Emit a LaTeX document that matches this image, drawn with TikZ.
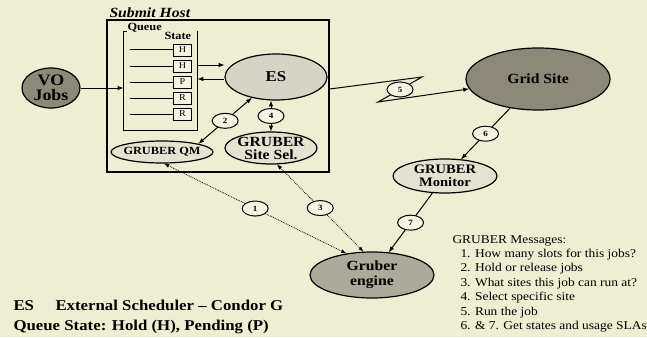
\documentclass[tikz,border=0pt]{standalone}
\usepackage{fontspec}
\setmainfont[FakeStretch=1.12]{Liberation Serif}
\usetikzlibrary{shapes.geometric}

\definecolor{bgcream}{RGB}{238,238,210}
\definecolor{darkolive}{RGB}{140,137,118}
\definecolor{esgrey}{RGB}{214,212,194}
\definecolor{enginegrey}{RGB}{172,170,152}
\definecolor{lightell}{RGB}{228,227,208}
\definecolor{labelfill}{RGB}{244,244,224}

\tikzset{
  bigell/.style={ellipse, draw, line width=1.2pt, inner sep=0pt},
  elltext/.style={align=center, inner sep=0pt, font=\bfseries},
  numell/.style={ellipse, draw, solid, line width=1pt, fill=labelfill, inner sep=0pt,
    minimum width=26pt, minimum height=15pt, font=\fontsize{8}{8}\selectfont\bfseries},
  statebox/.style={draw, line width=0.8pt, fill=labelfill, inner sep=0pt,
    minimum width=18pt, minimum height=12pt, font=\fontsize{9}{9}\selectfont},
  keytext/.style={anchor=base west, inner sep=0pt, font=\fontsize{15}{15}\selectfont\bfseries},
  msgtext/.style={anchor=base west, inner sep=0pt, font=\fontsize{12}{12}\selectfont},
}

\begin{document}
\begin{tikzpicture}[x=1pt, y=-1pt, >=latex, line width=1pt]

	% Page
	\fill[bgcream] (0,0) rectangle (647,337);
	\useasboundingbox (0,0) rectangle (647,337);

	% Submit host box
	\node[draw, line width=1.2pt, minimum width=222pt, minimum height=152pt, inner sep=0pt] (submit) at (218,96) {};
	\node[anchor=base west, inner sep=0pt, font=\fontsize{14}{14}\selectfont\bfseries\itshape] (submitlbl) at (109,18) {Submit Host};

	% Queue
	\node[minimum width=73pt, minimum height=98pt, inner sep=0pt] (queue) at (160.5,81) {};
	\draw[line width=1.2pt] ([xshift=3pt]queue.north west) -- (queue.north west) -- (queue.south west)
		-- (queue.south east) -- (queue.north east);
	\node[anchor=base west, inner sep=0pt, font=\fontsize{11}{11}\selectfont\bfseries] (queuelbl) at (127,31) {Queue};
	\node[anchor=base west, inner sep=0pt, font=\fontsize{11}{11}\selectfont\bfseries] (statelbl) at (164,40) {State};
	\foreach \st [count=\i] in {H,H,P,R,R} {
		\node[statebox] (s\i) at (182.5,34+16*\i) {\st};
		\draw (s\i.west) -- ++(-43,0);
	}

	% Ellipses
	\node[bigell, fill=darkolive, minimum width=58pt, minimum height=40pt] (vo) at (51,88) {};
	\node[elltext, font=\fontsize{16}{15}\selectfont\bfseries] (votxt) at (vo) {VO\\Jobs};

	\node[bigell, fill=esgrey, minimum width=102pt, minimum height=46pt] (es) at (276,77) {};
	\node[elltext, font=\fontsize{15}{15}\selectfont\bfseries] (estxt) at (es) {ES};

	\node[bigell, fill=lightell, minimum width=102pt, minimum height=22pt] (qm) at (162,152) {};
	\node[elltext, font=\fontsize{11}{11}\selectfont\bfseries] (qmtxt) at (qm) {GRUBER QM};

	\node[bigell, fill=lightell, minimum width=92pt, minimum height=32pt] (sitesel) at (271,148) {};
	\node[elltext, font=\fontsize{14}{13}\selectfont\bfseries] (siteseltxt) at (sitesel) {GRUBER\\Site Sel.};

	\node[bigell, fill=darkolive, minimum width=144pt, minimum height=62pt] (grid) at (538,79) {};
	\node[elltext, font=\fontsize{14}{14}\selectfont\bfseries] (gridtxt) at (grid) {Grid Site};

	\node[bigell, fill=lightell, minimum width=104pt, minimum height=34pt] (monitor) at (445,176) {};
	\node[elltext, font=\fontsize{13}{13}\selectfont\bfseries] (monitortxt) at (monitor) {GRUBER\\Monitor};

	\node[bigell, fill=enginegrey, minimum width=124pt, minimum height=46pt] (engine) at (372,275) {};
	\node[elltext, font=\fontsize{14}{15}\selectfont\bfseries] (enginetxt) at (engine) {Gruber\\engine};

	% Arrows inside the host
	\draw[->] (vo) -- (vo -| queue.west);
	\draw[->] ([yshift=16pt]queue.east) -- ([yshift=16pt]queue.east -| es.west);
	\draw[<-] ([yshift=2pt]queue.east) -- ([yshift=2pt]queue.east -| es.west);
	\draw[<->] (es) -- node[numell] (n2) {2} (qm.north east);
	\draw[<->] (sitesel.north |- es.south) -- node[numell] (n4) {4} (sitesel.north);

	% GRUBER messages
	\draw[<->, line width=0.8pt, densely dotted] (qm.-80) -- node[numell] (n1) {1} (engine.140);
	\draw[<->, line width=0.8pt, densely dotted] (sitesel.-70) -- node[numell] (n3) {3} (engine.110);
	\coordinate (zA) at (422,77);
	\coordinate (zB) at (378,102);
	\draw[->] ([yshift=7pt]submit.east) -- (zA) -- node[numell] (n5) {5} (zB) -- (grid);
	\draw[->] (grid) -- node[numell] (n6) {6} (monitor);
	\draw[->] (monitor) -- node[numell] (n7) {7} (engine);

	% Key
	\node[keytext] (eskey) at (13,310) {ES};
	\node[keytext] (esdesc) at (55,310) {External Scheduler – Condor G};
	\node[keytext] (qskey) at (13,330) {Queue State: Hold (H), Pending (P)};

	% Message list
	\node[msgtext] (msghead) at (452,243) {GRUBER Messages:};
	\foreach \txt [count=\i] in {1. How many slots for this jobs?, 2. Hold or release jobs,
		3. What sites this job can run at?, 4. Select specific site, 5. Run the job,
		6. \& 7. Get states and usage SLAs} {
		\node[msgtext] (msg\i) at (460,243+14.4*\i) {\txt};
	}

\end{tikzpicture}
\end{document}
